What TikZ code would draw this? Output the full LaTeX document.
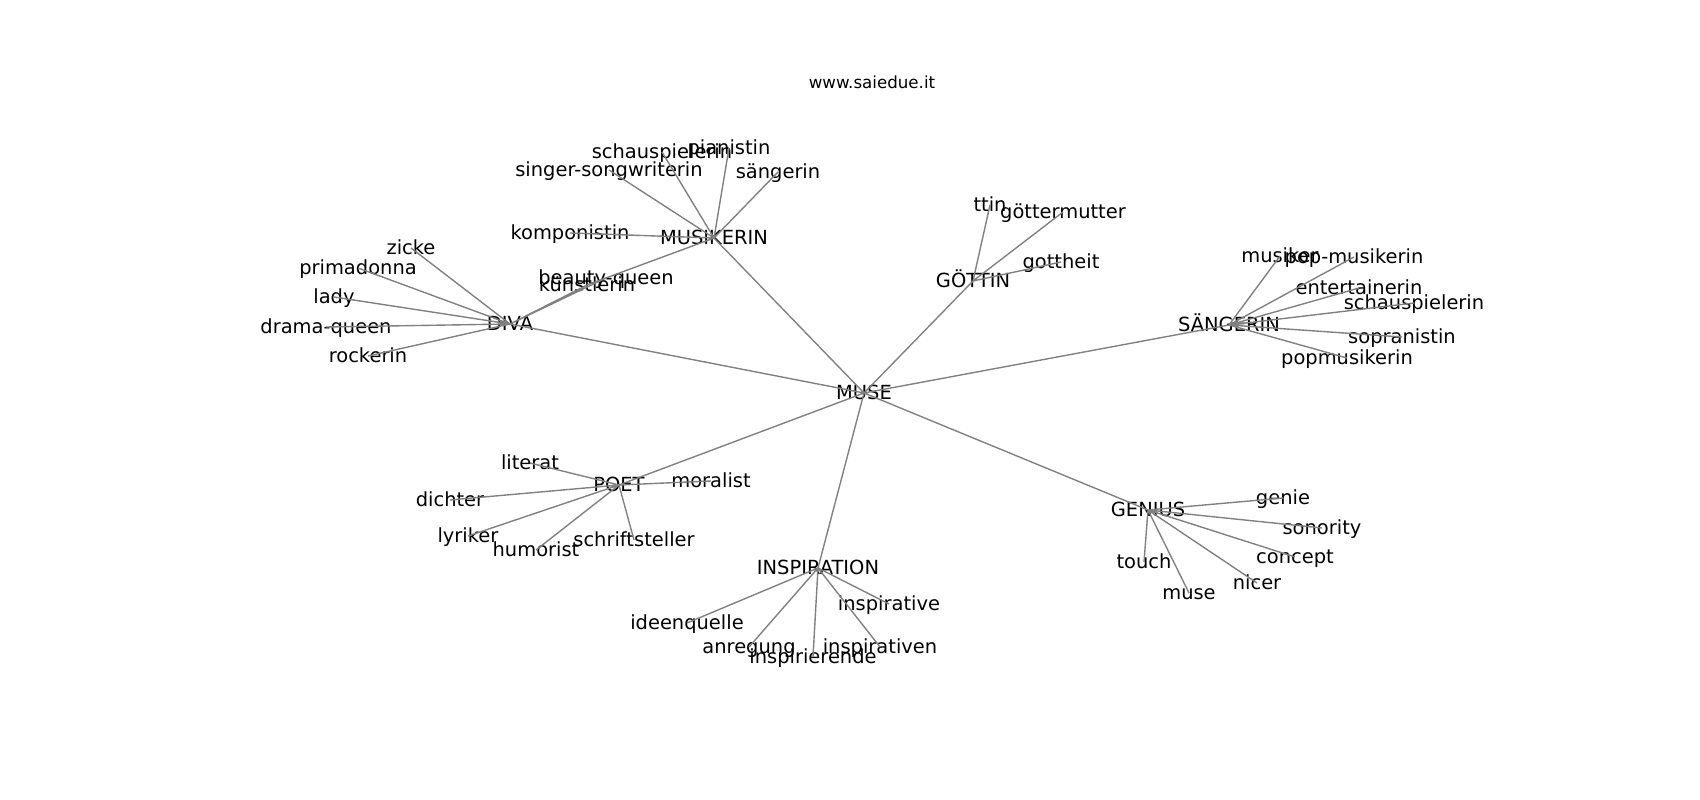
\documentclass[tikz,border=0pt]{standalone}
\usepackage{fontspec}
\setmainfont{DejaVu Sans}
\usetikzlibrary{positioning}
\definecolor{edgegray}{RGB}{128,128,128}

\begin{document}
\begin{tikzpicture}[x=0.01in, y=-0.01in,
  word/.style={inner sep=0pt, text height=0.94em, text depth=0.06em, font=\fontsize{14bp}{16bp}\selectfont},
  link/.style={draw=edgegray, line width=1bp}]
\useasboundingbox (0,0) rectangle (1700,800);

% Title
\node[inner sep=0pt, font=\fontsize{12bp}{14bp}\selectfont] (title) at (872,82) {www.saiedue.it};

% Centre
\node[word] (muse) at (864,393) {MUSE};

% Hubs
\node[word] (musikerin) at (714,238) {MUSIKERIN};
\node[word] (diva) at (510,324) {DIVA};
\node[word] (goettin) at (973,281) {GÖTTIN};
\node[word] (saengerin) at (1229,325) {SÄNGERIN};
\node[word] (poet) at (619,485) {POET};
\node[word] (inspiration) at (818,568) {INSPIRATION};
\node[word] (genius) at (1148,510) {GENIUS};

% Musikerin words
\node[word] (mschauspielerin) at (662,152) {schauspielerin};
\node[word] (pianistin) at (729,148) {pianistin};
\node[word] (singer) at (609,170) {singer-songwriterin};
\node[word] (msaengerin) at (778,172) {sängerin};
\node[word] (komponistin) at (570,233) {komponistin};
\node[word] (kuenstlerin) at (587,285) {künstlerin};

% Diva words
\node[word] (beauty) at (606,278) {beauty-queen};
\node[word] (zicke) at (411,248) {zicke};
\node[word] (primadonna) at (358,268) {primadonna};
\node[word] (lady) at (334,297) {lady};
\node[word] (drama) at (326,327) {drama-queen};
\node[word] (rockerin) at (368,356) {rockerin};

% Goettin words
\node[word] (ttin) at (990,205) {ttin};
\node[word] (goettermutter) at (1063,212) {göttermutter};
\node[word] (gottheit) at (1061,262) {gottheit};

% Saengerin words
\node[word] (musiker) at (1280,256) {musiker};
\node[word] (popdash) at (1354,257) {pop-musikerin};
\node[word] (entertainerin) at (1359,288) {entertainerin};
\node[word] (sschauspielerin) at (1414,303) {schauspielerin};
\node[word] (sopranistin) at (1402,337) {sopranistin};
\node[word] (popmusikerin) at (1347,358) {popmusikerin};

% Poet words
\node[word] (literat) at (530,463) {literat};
\node[word] (moralist) at (711,481) {moralist};
\node[word] (dichter) at (450,500) {dichter};
\node[word] (lyriker) at (468,536) {lyriker};
\node[word] (humorist) at (536,550) {humorist};
\node[word] (schriftsteller) at (634,540) {schriftsteller};

% Inspiration words
\node[word] (inspirative) at (889,604) {inspirative};
\node[word] (ideenquelle) at (687,623) {ideenquelle};
\node[word] (anregung) at (749,647) {anregung};
\node[word] (inspirierende) at (813,657) {inspirierende};
\node[word] (inspirativen) at (880,647) {inspirativen};

% Genius words
\node[word] (genie) at (1283,498) {genie};
\node[word] (sonority) at (1322,528) {sonority};
\node[word] (concept) at (1295,557) {concept};
\node[word] (nicer) at (1257,583) {nicer};
\node[word] (touch) at (1144,562) {touch};
\node[word] (smallmuse) at (1189,593) {muse};

% Edges from the centre
\draw[link] (muse.center) -- (musikerin.center) (muse.center) -- (diva.center)
  (muse.center) -- (goettin.center) (muse.center) -- (saengerin.center)
  (muse.center) -- (poet.center) (muse.center) -- (inspiration.center)
  (muse.center) -- (genius.center);

% Musikerin and Diva edges
\draw[link] (musikerin.center) -- (mschauspielerin.center) (musikerin.center) -- (pianistin.center)
  (musikerin.center) -- (singer.center) (musikerin.center) -- (msaengerin.center)
  (musikerin.center) -- (komponistin.center) (musikerin.center) -- (kuenstlerin.center);
\draw[link] (diva.center) -- (kuenstlerin.center) (diva.center) -- (beauty.center)
  (diva.center) -- (zicke.center) (diva.center) -- (primadonna.center)
  (diva.center) -- (lady.center) (diva.center) -- (drama.center)
  (diva.center) -- (rockerin.center);

% Goettin and Saengerin edges
\draw[link] (goettin.center) -- (ttin.center) (goettin.center) -- (goettermutter.center)
  (goettin.center) -- (gottheit.center);
\draw[link] (saengerin.center) -- (musiker.center) (saengerin.center) -- (popdash.center)
  (saengerin.center) -- (entertainerin.center) (saengerin.center) -- (sschauspielerin.center)
  (saengerin.center) -- (sopranistin.center) (saengerin.center) -- (popmusikerin.center);

% Poet edges
\draw[link] (poet.center) -- (literat.center) (poet.center) -- (moralist.center)
  (poet.center) -- (dichter.center) (poet.center) -- (lyriker.center)
  (poet.center) -- (humorist.center) (poet.center) -- (schriftsteller.center);

% Inspiration and Genius edges
\draw[link] (inspiration.center) -- (inspirative.center) (inspiration.center) -- (ideenquelle.center)
  (inspiration.center) -- (anregung.center) (inspiration.center) -- (inspirierende.center)
  (inspiration.center) -- (inspirativen.center);
\draw[link] (genius.center) -- (genie.center) (genius.center) -- (sonority.center)
  (genius.center) -- (concept.center) (genius.center) -- (nicer.center)
  (genius.center) -- (touch.center) (genius.center) -- (smallmuse.center);
\end{tikzpicture}
\end{document}
